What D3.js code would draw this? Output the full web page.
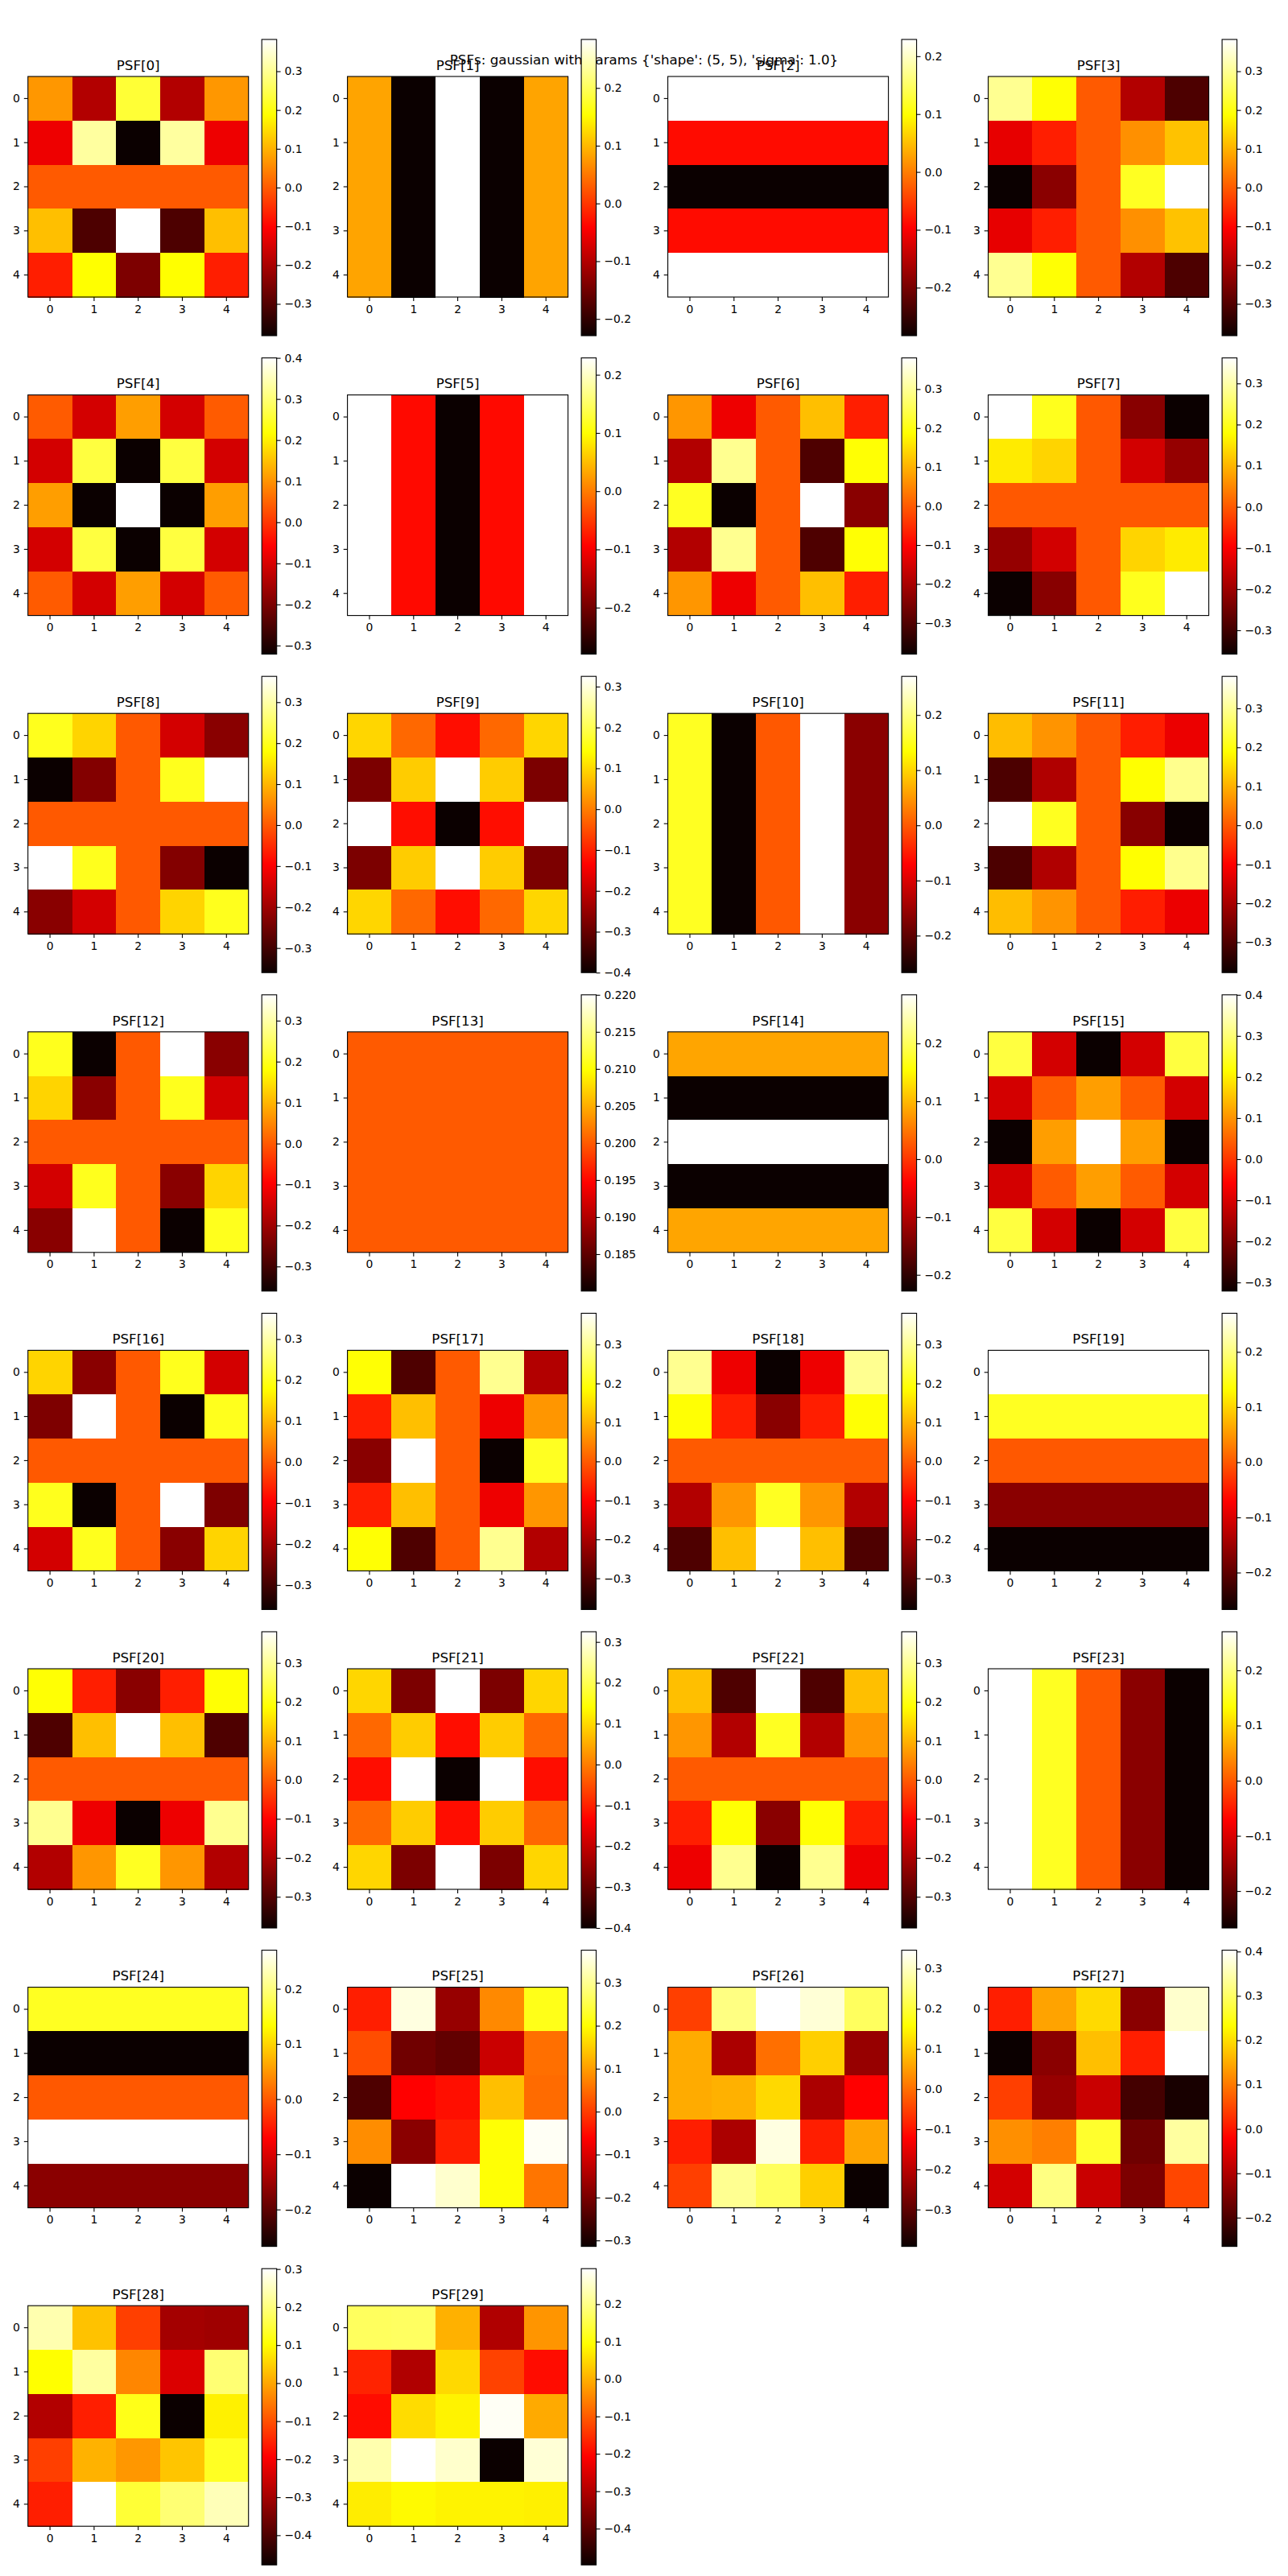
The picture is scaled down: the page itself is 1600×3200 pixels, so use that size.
<!DOCTYPE html>
<html><head><meta charset="utf-8">
<script src="https://cdn.jsdelivr.net/npm/d3@7"></script>
<style>body{margin:0;background:#fff}</style>
</head><body>
<svg id="chart" width="1600" height="3200"></svg>
<script>
// ---- data ----
const suptitle = "PSFs: gaussian with params {'shape': (5, 5), 'sigma': 1.0}";
const gridIndex = [0, 1, 2, 3, 4];
const psf0 = [[0.069,-0.191,0.229,-0.191,0.069],[-0.122,0.309,-0.382,0.309,-0.122],[0,0,0,0,0],[0.115,-0.306,0.382,-0.306,0.115],[-0.069,0.188,-0.252,0.188,-0.069]];
const psf1 = [[0.084,-0.229,0.284,-0.229,0.084],[0.084,-0.229,0.284,-0.229,0.084],[0.084,-0.229,0.284,-0.229,0.084],[0.084,-0.229,0.284,-0.229,0.084],[0.084,-0.229,0.284,-0.229,0.084]];
const psf2 = [[0.229,0.229,0.229,0.229,0.229],[-0.088,-0.088,-0.088,-0.088,-0.088],[-0.283,-0.283,-0.283,-0.283,-0.283],[-0.088,-0.088,-0.088,-0.088,-0.088],[0.229,0.229,0.229,0.229,0.229]];
const psf3 = [[0.298,0.191,0,-0.191,-0.306],[-0.13,-0.069,0,0.061,0.118],[-0.382,-0.237,0,0.214,0.382],[-0.13,-0.069,0,0.061,0.118],[0.298,0.191,0,-0.191,-0.306]];
const psf4 = [[0.04,-0.105,0.112,-0.105,0.04],[-0.105,0.263,-0.321,0.263,-0.105],[0.112,-0.321,0.40,-0.321,0.112],[-0.105,0.263,-0.321,0.263,-0.105],[0.04,-0.105,0.112,-0.105,0.04]];
const psf5 = [[0.229,-0.087,-0.28,-0.087,0.229],[0.229,-0.087,-0.28,-0.087,0.229],[0.229,-0.087,-0.28,-0.087,0.229],[0.229,-0.087,-0.28,-0.087,0.229],[0.229,-0.087,-0.28,-0.087,0.229]];
const psf6 = [[0.068,-0.122,0,0.114,-0.068],[-0.19,0.296,0,-0.304,0.19],[0.213,-0.38,0,0.38,-0.236],[-0.19,0.296,0,-0.304,0.19],[0.068,-0.122,0,0.114,-0.068]];
const psf7 = [[0.362,0.2,0,-0.223,-0.358],[0.158,0.133,0,-0.144,-0.209],[0,0,0,0,0],[-0.209,-0.144,0,0.133,0.158],[-0.358,-0.223,0,0.2,0.362]];
const psf8 = [[0.2,0.133,0,-0.144,-0.223],[-0.36,-0.23,0,0.2,0.363],[0,0,0,0,0],[0.363,0.2,0,-0.23,-0.36],[-0.223,-0.144,0,0.133,0.2]];
const psf9 = [[0.097,-0.023,-0.121,-0.023,0.097],[-0.277,0.086,0.325,0.086,-0.277],[0.325,-0.121,-0.4,-0.121,0.325],[-0.277,0.086,0.325,0.086,-0.277],[0.097,-0.023,-0.121,-0.023,0.097]];
const psf10 = [[0.152,-0.267,0,0.27,-0.165],[0.152,-0.267,0,0.27,-0.165],[0.152,-0.267,0,0.27,-0.165],[0.152,-0.267,0,0.27,-0.165],[0.152,-0.267,0,0.27,-0.165]];
const psf11 = [[0.114,0.068,0,-0.068,-0.122],[-0.304,-0.19,0,0.19,0.296],[0.382,0.213,0,-0.236,-0.378],[-0.304,-0.19,0,0.19,0.296],[0.114,0.068,0,-0.068,-0.122]];
const psf12 = [[0.2,-0.36,0,0.363,-0.223],[0.133,-0.223,0,0.2,-0.144],[0,0,0,0,0],[-0.144,0.2,0,-0.223,0.133],[-0.223,0.363,0,-0.36,0.2]];
const psf13 = [[0.2,0.2,0.2,0.2,0.2],[0.2,0.2,0.2,0.2,0.2],[0.2,0.2,0.2,0.2,0.2],[0.2,0.2,0.2,0.2,0.2],[0.2,0.2,0.2,0.2,0.2]];
const psf14 = [[0.085,0.085,0.085,0.085,0.085],[-0.228,-0.228,-0.228,-0.228,-0.228],[0.284,0.284,0.284,0.284,0.284],[-0.228,-0.228,-0.228,-0.228,-0.228],[0.085,0.085,0.085,0.085,0.085]];
const psf15 = [[0.263,-0.105,-0.321,-0.105,0.263],[-0.105,0.04,0.112,0.04,-0.105],[-0.321,0.112,0.40,0.112,-0.321],[-0.105,0.04,0.112,0.04,-0.105],[0.263,-0.105,-0.321,-0.105,0.263]];
const psf16 = [[0.133,-0.223,0,0.2,-0.144],[-0.235,0.363,0,-0.36,0.2],[0,0,0,0,0],[0.2,-0.36,0,0.363,-0.235],[-0.144,0.2,0,-0.223,0.133]];
const psf17 = [[0.19,-0.304,0,0.296,-0.19],[-0.068,0.114,0,-0.122,0.068],[-0.236,0.38,0,-0.38,0.213],[-0.068,0.114,0,-0.122,0.068],[0.19,-0.304,0,0.296,-0.19]];
const psf18 = [[0.296,-0.122,-0.38,-0.122,0.296],[0.19,-0.068,-0.236,-0.068,0.19],[0,0,0,0,0],[-0.19,0.068,0.213,0.068,-0.19],[-0.304,0.114,0.38,0.114,-0.304]];
const psf19 = [[0.27,0.27,0.27,0.27,0.27],[0.152,0.152,0.152,0.152,0.152],[0,0,0,0,0],[-0.165,-0.165,-0.165,-0.165,-0.165],[-0.267,-0.267,-0.267,-0.267,-0.267]];
const psf20 = [[0.19,-0.068,-0.236,-0.068,0.19],[-0.304,0.114,0.38,0.114,-0.304],[0,0,0,0,0],[0.296,-0.122,-0.38,-0.122,0.296],[-0.19,0.068,0.213,0.068,-0.19]];
const psf21 = [[0.097,-0.277,0.325,-0.277,0.097],[-0.023,0.086,-0.121,0.086,-0.023],[-0.121,0.325,-0.4,0.325,-0.121],[-0.023,0.086,-0.121,0.086,-0.023],[0.097,-0.277,0.325,-0.277,0.097]];
const psf22 = [[0.114,-0.304,0.38,-0.304,0.114],[0.068,-0.19,0.213,-0.19,0.068],[0,0,0,0,0],[-0.068,0.19,-0.236,0.19,-0.068],[-0.122,0.296,-0.38,0.296,-0.122]];
const psf23 = [[0.27,0.152,0,-0.165,-0.267],[0.27,0.152,0,-0.165,-0.267],[0.27,0.152,0,-0.165,-0.267],[0.27,0.152,0,-0.165,-0.267],[0.27,0.152,0,-0.165,-0.267]];
const psf24 = [[0.152,0.152,0.152,0.152,0.152],[-0.267,-0.267,-0.267,-0.267,-0.267],[0,0,0,0,0],[0.27,0.27,0.27,0.27,0.27],[-0.165,-0.165,-0.165,-0.165,-0.165]];
const psf25 = [[-0.031,0.355,-0.169,0.079,0.217],[0.017,-0.21,-0.224,-0.117,0.052],[-0.245,-0.062,-0.048,0.135,0.048],[0.083,-0.183,-0.031,0.204,0.369],[-0.314,0.376,0.342,0.204,0.059]];
const psf26 = [[-0.053,0.254,0.346,0.316,0.228],[0.066,-0.215,0.0,0.106,-0.237],[0.066,0.073,0.117,-0.215,-0.123],[-0.09,-0.215,0.324,-0.09,0.058],[-0.053,0.265,0.228,0.106,-0.392]];
const psf27 = [[0.009,0.142,0.196,-0.138,0.37],[-0.265,-0.138,0.169,0.009,0.403],[0.042,-0.125,-0.075,-0.208,-0.252],[0.122,0.106,0.263,-0.165,0.34],[-0.065,0.32,-0.075,-0.151,0.049]];
const psf28 = [[0.239,0.032,-0.12,-0.299,-0.305],[0.103,0.227,-0.038,-0.236,0.192],[-0.283,-0.159,0.122,-0.478,0.087],[-0.12,0.013,-0.018,0.036,0.13],[-0.159,0.301,0.145,0.192,0.246]];
const psf29 = [[0.168,0.17,0.001,-0.301,-0.031],[-0.166,-0.301,0.049,-0.13,-0.194],[-0.194,0.053,0.08,0.287,-0.007],[0.231,0.295,0.255,-0.497,0.263],[0.072,0.088,0.08,0.08,0.076]];
const psfs = [psf0,psf1,psf2,psf3,psf4,psf5,psf6,psf7,psf8,psf9,psf10,psf11,psf12,psf13,psf14,psf15,
              psf16,psf17,psf18,psf19,psf20,psf21,psf22,psf23,psf24,psf25,psf26,psf27,psf28,psf29];

// ---- layout ----
const colLefts = [34.7, 431.6, 829.6, 1227.6];
const firstTop = 95, rowPitch = 395.6, imgSize = 274;
const cbOffset = 290.5, cbWidth = 18.5, cbAbove = 46, cbHeight = 368;
const FONT = "DejaVu Sans, Liberation Sans, sans-serif";
const tickFs = 13.9, titleFs = 16.7, tickLen = 4.9, tickPad = 4.9;

// matplotlib 'hot' colormap
const hotStops = [0, 0.365079, 0.746032, 1];
function hot(t) {
  t = Math.max(0, Math.min(1, t));
  const r = t < 0.365079 ? 0.0416 + (1 - 0.0416) * t / 0.365079 : 1;
  const g = t < 0.365079 ? 0 : (t < 0.746032 ? (t - 0.365079) / (0.746032 - 0.365079) : 1);
  const b = t < 0.746032 ? 0 : (t - 0.746032) / (1 - 0.746032);
  return d3.rgb(Math.round(r * 255), Math.round(g * 255), Math.round(b * 255)).toString();
}

const svg = d3.select("#chart");
svg.append("rect").attr("width", 1600).attr("height", 3200).attr("fill", "#fff");
const defs = svg.append("defs");
const grad = defs.append("linearGradient").attr("id", "hotgrad")
  .attr("x1", 0).attr("y1", 1).attr("x2", 0).attr("y2", 0);
hotStops.forEach(s => grad.append("stop").attr("offset", s).attr("stop-color", hot(s)));

svg.append("text").attr("x", 800).attr("y", 79.5).attr("text-anchor", "middle")
  .attr("font-family", FONT).attr("font-size", titleFs).attr("fill", "#000").text(suptitle);

function styleAxis(g) {
  g.select(".domain").remove();
  g.selectAll(".tick line").attr("stroke", "#000").attr("stroke-width", 1.1);
  g.selectAll(".tick text").attr("font-family", FONT).attr("font-size", tickFs).attr("fill", "#000");
  g.attr("font-family", FONT).attr("font-size", tickFs);
}

psfs.forEach((data, i) => {
  const row = Math.floor(i / 4), col = i % 4;
  const left = colLefts[col], top = firstTop + row * rowPitch;
  let vmin = d3.min(data.flat()), vmax = d3.max(data.flat());
  if (vmin === vmax) { const a = Math.abs(vmin) * 0.1 || 0.1; vmin = vmin - a * 0.999; vmax = vmax + a; }
  const norm = d3.scaleLinear().domain([vmin, vmax]).range([0, 1]);
  const x = d3.scaleBand().domain(gridIndex).range([left, left + imgSize]);
  const y = d3.scaleBand().domain(gridIndex).range([top, top + imgSize]);
  const g = svg.append("g");

  const cells = [];
  data.forEach((r, ri) => r.forEach((v, ci) => cells.push({ r: ri, c: ci, v })));
  g.selectAll("rect.cell").data(cells).join("rect").attr("class", "cell")
    .attr("x", d => x(d.c)).attr("y", d => y(d.r))
    .attr("width", x.bandwidth() + 0.5).attr("height", y.bandwidth() + 0.5)
    .attr("fill", d => hot(norm(d.v))).attr("shape-rendering", "crispEdges");
  g.append("rect").attr("x", left).attr("y", top).attr("width", imgSize).attr("height", imgSize)
    .attr("fill", "none").attr("stroke", "#000").attr("stroke-width", 1.1);

  g.append("g").attr("transform", `translate(0,${top + imgSize})`)
    .call(d3.axisBottom(x).tickSize(tickLen).tickPadding(tickPad).tickSizeOuter(0)).call(styleAxis);
  g.append("g").attr("transform", `translate(${left},0)`)
    .call(d3.axisLeft(y).tickSize(tickLen).tickPadding(tickPad).tickSizeOuter(0)).call(styleAxis);

  g.append("text").attr("x", left + imgSize / 2).attr("y", top - 8.3).attr("text-anchor", "middle")
    .attr("font-family", FONT).attr("font-size", titleFs).attr("fill", "#000").text(`PSF[${i}]`);

  // colorbar
  const cbx = left + cbOffset, cbTop = top - cbAbove, cbBottom = cbTop + cbHeight;
  const cbScale = d3.scaleLinear().domain([vmin, vmax]).range([cbBottom, cbTop]);
  g.append("rect").attr("x", cbx).attr("y", cbTop).attr("width", cbWidth).attr("height", cbHeight)
    .attr("fill", "url(#hotgrad)");
  g.append("rect").attr("x", cbx).attr("y", cbTop).attr("width", cbWidth).attr("height", cbHeight)
    .attr("fill", "none").attr("stroke", "#000").attr("stroke-width", 1.1);
  const tks = cbScale.ticks(6);
  const step = d3.tickStep(vmin, vmax, 6);
  const fmt = d3.format("." + d3.precisionFixed(step) + "f");
  g.append("g").attr("transform", `translate(${cbx + cbWidth},0)`)
    .call(d3.axisRight(cbScale).tickValues(tks).tickFormat(fmt).tickSize(tickLen).tickPadding(tickPad).tickSizeOuter(0))
    .call(styleAxis);
});
</script>
</body></html>
